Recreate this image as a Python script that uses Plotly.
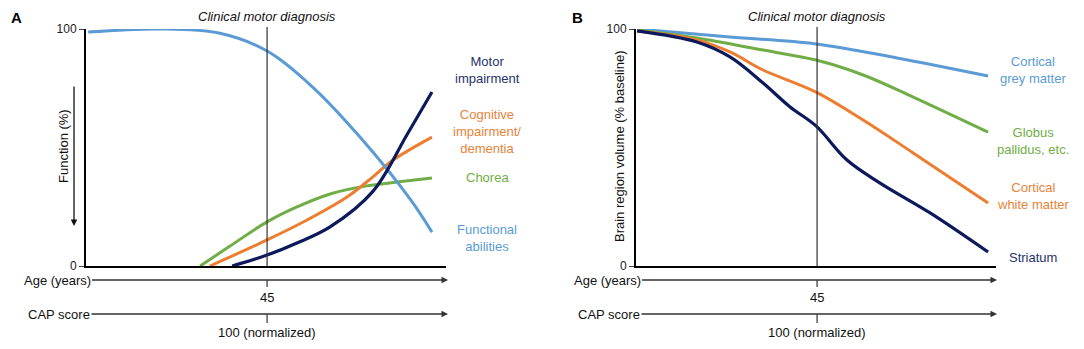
import plotly.graph_objects as go

# Page is 1084x349; the default body margin of 8px surrounds the figure.
PAGE_W, PAGE_H, BODY_M = 1084, 349, 8
W, H = PAGE_W - 2 * BODY_M, PAGE_H - 2 * BODY_M
FONT = "Liberation Sans, Arial, sans-serif"

# ---------------- Data (timeline 0-100, diagnosis near the middle) ----------------
diagnosis_x = 50.3
y_ticks = [0, 100]

# Panel A: function (%)
a_func_x = [0.6, 20.6, 37.2, 50.3, 63.1, 76.1, 90, 96.1]
a_func_y = [98.7, 100, 98.2, 90.7, 75.3, 54.4, 28.3, 14.3]
a_motor_x = [40.6, 50.3, 58.6, 67.8, 79.7, 89.2, 96.1]
a_motor_y = [0, 4.6, 9.7, 16.5, 31.5, 55.5, 73.4]
a_cog_x = [34.4, 50.3, 61.4, 72.5, 79.7, 85.3, 96.1]
a_cog_y = [0, 11, 19.4, 29.1, 37.6, 44.7, 54.4]
a_chorea_x = [31.7, 40, 50.3, 58.6, 67.8, 78, 86.4, 96.1]
a_chorea_y = [0, 8.4, 18.6, 24.9, 30.4, 33.8, 35.4, 37.1]

# Panel B: brain region volume (% baseline)
b_grey_x = [0.3, 26.1, 50, 72.5, 97.8]
b_grey_y = [100, 96.6, 93.7, 87.8, 80.2]
b_gp_x = [0.3, 16.9, 35.3, 50, 63.1, 77, 97.8]
b_gp_y = [99.6, 96.2, 91.1, 86.9, 80.6, 71.3, 56.5]
b_white_x = [0.3, 16.9, 26.1, 35.3, 50, 63.1, 77, 97.8]
b_white_y = [99.2, 95.4, 90.3, 82.7, 73.4, 61.6, 47.7, 26.6]
b_str_x = [0.3, 16.9, 26.1, 35.3, 42.8, 50, 58.6, 67.8, 81.7, 97.8]
b_str_y = [99.2, 94.5, 88.2, 77.2, 67.1, 59.1, 44.7, 35, 22.4, 5.9]

labels_a = ["Motor<br>impairment", "Cognitive<br>impairment/<br>dementia", "Chorea", "Functional<br>abilities"]
labels_b = ["Cortical<br>grey matter", "Globus<br>pallidus, etc.", "Cortical<br>white matter", "Striatum"]

BLUE = "#5B9BD5"
ORANGE = "#ED7D31"
GREEN = "#70AD47"
NAVY = "#0C1A5C"
NAVY_T = "#25336B"
ORANGE_T = "#E8833A"
GREEN_T = "#6FAE45"
BLUE_T = "#5B9BD5"


def X(p):
    return (p - BODY_M) / W


def Y(p):
    return 1 - (p - BODY_M) / H


fig = go.Figure()


def add(x, y, color, xa, ya, w=3):
    fig.add_trace(go.Scatter(x=x, y=y, mode="lines", xaxis=xa, yaxis=ya,
                             line=dict(color=color, width=w, shape="spline", smoothing=1.0),
                             cliponaxis=False, showlegend=False, hoverinfo="skip"))


add(a_chorea_x, a_chorea_y, GREEN, "x", "y")
add(a_cog_x, a_cog_y, ORANGE, "x", "y")
add(a_func_x, a_func_y, BLUE, "x", "y")
add(a_motor_x, a_motor_y, NAVY, "x", "y", 3.2)

add(b_grey_x, b_grey_y, BLUE, "x2", "y2")
add(b_gp_x, b_gp_y, GREEN, "x2", "y2")
add(b_white_x, b_white_y, ORANGE, "x2", "y2")
add(b_str_x, b_str_y, NAVY, "x2", "y2", 3.2)

ydom = [Y(266), Y(29)]
axis_common = dict(range=[0, 100], showgrid=False, zeroline=False, showline=True,
                   linecolor="#000", linewidth=2, fixedrange=True)
fig.update_layout(
    width=W, height=H, margin=dict(l=0, r=0, t=0, b=0, pad=0), autosize=False,
    paper_bgcolor="white", plot_bgcolor="white", showlegend=False,
    font=dict(family=FONT, size=12, color="#222"),
    xaxis=dict(domain=[X(86), X(446)], anchor="y", showticklabels=False, ticks="", **axis_common),
    yaxis=dict(domain=ydom, anchor="x", tickvals=y_ticks, ticktext=[str(v) for v in y_ticks],
               ticks="outside", ticklen=5, tickcolor="#444", tickfont=dict(size=12, color="#222"),
               automargin=False, **axis_common),
    xaxis2=dict(domain=[X(636), X(996)], anchor="y2", showticklabels=False, ticks="", **axis_common),
    yaxis2=dict(domain=ydom, anchor="x2", tickvals=y_ticks, ticktext=[str(v) for v in y_ticks],
                ticks="outside", ticklen=5, tickcolor="#444", tickfont=dict(size=12, color="#222"),
                automargin=False, **axis_common),
)

shapes = []
ann = []


def text(x, y, t, size=13, color="#111", xref="paper", **kw):
    d = dict(xref=xref, yref="paper", x=x, y=y, text=t, showarrow=False,
             font=dict(size=size, color=color), xanchor="center", yanchor="middle")
    d.update(kw)
    ann.append(d)


for xr, xa0, tip in [("x", 86, 448), ("x2", 636, 997)]:
    # diagnosis line and its ticks on the two timelines
    shapes.append(dict(type="line", xref=xr, yref="paper", x0=diagnosis_x, x1=diagnosis_x,
                       y0=Y(266), y1=Y(27), line=dict(color="#333", width=1.2)))
    shapes.append(dict(type="line", xref=xr, yref="paper", x0=diagnosis_x, x1=diagnosis_x,
                       y0=Y(280), y1=Y(287), line=dict(color="#333", width=1.2)))
    shapes.append(dict(type="line", xref=xr, yref="paper", x0=diagnosis_x, x1=diagnosis_x,
                       y0=Y(314), y1=Y(323), line=dict(color="#333", width=1.2)))
    text(diagnosis_x, Y(17), "<i>Clinical motor diagnosis</i>", xref=xr)
    text(diagnosis_x, Y(297), "45", xref=xr)
    text(diagnosis_x, Y(332), "100 (normalized)", xref=xr)
    # Age and CAP arrows
    ann.append(dict(xref="paper", yref="paper", x=X(tip), y=Y(280), text="Age (years)",
                    showarrow=True, ax=(xa0 - 29) - tip, ay=0, arrowhead=2, arrowsize=1,
                    arrowwidth=1.3, arrowcolor="#333", font=dict(size=13, color="#111"),
                    xanchor="center", yanchor="middle"))
    ann.append(dict(xref="paper", yref="paper", x=X(tip), y=Y(314), text="CAP score",
                    showarrow=True, ax=(xa0 - 27) - tip, ay=0, arrowhead=2, arrowsize=1,
                    arrowwidth=1.3, arrowcolor="#333", font=dict(size=13, color="#111"),
                    xanchor="center", yanchor="middle"))

# panel letters
text(X(16), Y(18), "<b>A</b>", size=15, color="#000")
text(X(577), Y(18), "<b>B</b>", size=15, color="#000")

# y titles
text(X(63), Y(146), "Function (%)", textangle=-90)
ann.append(dict(xref="paper", yref="paper", x=X(74), y=Y(226), text="", showarrow=True, ax=0, ay=-141,
                arrowhead=2, arrowsize=1, arrowwidth=1.3, arrowcolor="#111"))
text(X(619), Y(147), "Brain region volume (% baseline)", textangle=-90)

# series labels
for t, yy, col in zip(labels_a, [70, 131, 177, 238], [NAVY_T, ORANGE_T, GREEN_T, BLUE_T]):
    text(X(487), Y(yy), t, color=col, align="center")
for t, yy, col in zip(labels_b, [70, 141, 196, 257], [BLUE_T, GREEN_T, ORANGE_T, NAVY_T]):
    text(X(1033), Y(yy), t, color=col, align="center")

fig.update_layout(shapes=shapes, annotations=ann)
fig.write_html("out.html")
